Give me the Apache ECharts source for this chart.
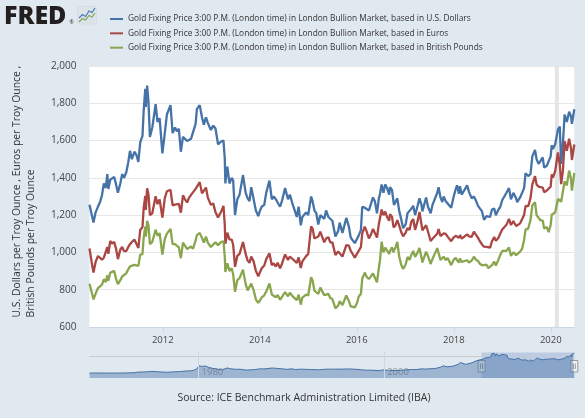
<!DOCTYPE html>
<html><head><meta charset="utf-8">
<script src="https://cdn.jsdelivr.net/npm/echarts@6/dist/echarts.min.js"></script>
<style>html,body{margin:0;padding:0;background:#e1e9f0;}#c{width:585px;height:418px;}</style>
</head><body><div id="c"></div>
<script>
// ---------- DATA ----------
const dates = [
'2010-06-28','2010-07-14','2010-07-28','2010-08-13','2010-08-31','2010-09-15','2010-09-30','2010-10-14','2010-10-29','2010-11-09','2010-11-17','2010-12-01','2010-12-15','2010-12-31',
'2011-01-14','2011-01-28','2011-02-15','2011-03-01','2011-03-15','2011-04-01','2011-04-15','2011-04-29','2011-05-13','2011-06-01','2011-06-15','2011-07-01','2011-07-15','2011-08-01','2011-08-10','2011-08-22','2011-08-26','2011-09-05','2011-09-15','2011-09-26','2011-10-14','2011-11-08','2011-11-22','2011-12-08','2011-12-29',
'2012-01-16','2012-02-01','2012-02-28','2012-03-15','2012-04-02','2012-04-16','2012-05-01','2012-05-16','2012-06-01','2012-06-15','2012-07-02','2012-07-16','2012-08-01','2012-08-15','2012-09-04','2012-09-14','2012-10-05','2012-10-22','2012-11-05','2012-11-21','2012-12-05','2012-12-28',
'2013-01-15','2013-02-01','2013-02-20','2013-03-15','2013-04-02','2013-04-12','2013-04-16','2013-05-01','2013-05-17','2013-06-03','2013-06-14','2013-06-28','2013-07-15','2013-08-01','2013-08-27','2013-09-16','2013-10-01','2013-10-15','2013-10-28','2013-11-15','2013-12-02','2013-12-20',
'2014-01-02','2014-01-15','2014-02-03','2014-02-18','2014-03-14','2014-04-01','2014-04-15','2014-05-01','2014-05-15','2014-06-02','2014-06-16','2014-07-10','2014-08-01','2014-08-15','2014-09-02','2014-09-16','2014-10-06','2014-10-20','2014-11-05','2014-11-17','2014-12-01','2014-12-15','2014-12-31',
'2015-01-22','2015-02-02','2015-02-16','2015-03-02','2015-03-17','2015-04-01','2015-04-15','2015-05-01','2015-05-15','2015-06-01','2015-06-15','2015-07-01','2015-07-24','2015-08-14','2015-08-25','2015-09-15','2015-10-14','2015-11-02','2015-11-16','2015-12-01','2015-12-17',
'2016-01-04','2016-01-15','2016-02-01','2016-02-11','2016-03-01','2016-03-15','2016-04-01','2016-04-15','2016-05-02','2016-05-16','2016-06-01','2016-06-15','2016-06-24','2016-07-06','2016-07-20','2016-08-02','2016-08-16','2016-09-01','2016-09-07','2016-09-22','2016-10-04','2016-10-07','2016-10-18','2016-11-01','2016-11-15','2016-12-01','2016-12-15',
'2017-01-03','2017-01-17','2017-02-01','2017-02-15','2017-03-01','2017-03-15','2017-04-03','2017-04-17','2017-05-02','2017-05-09','2017-06-06','2017-06-20','2017-07-10','2017-07-24','2017-08-08','2017-08-29','2017-09-08','2017-09-22','2017-10-06','2017-10-16','2017-11-01','2017-11-15','2017-12-12','2017-12-29',
'2018-01-15','2018-01-25','2018-02-08','2018-02-16','2018-03-01','2018-03-15','2018-04-11','2018-04-25','2018-05-15','2018-06-01','2018-06-15','2018-07-02','2018-07-16','2018-08-01','2018-08-16','2018-09-04','2018-09-18','2018-10-01','2018-10-15','2018-11-01','2018-11-13','2018-12-03','2018-12-17','2018-12-31',
'2019-01-15','2019-02-01','2019-02-20','2019-03-07','2019-03-25','2019-04-15','2019-04-23','2019-05-15','2019-05-30','2019-06-14','2019-06-25','2019-07-15','2019-08-01','2019-08-15','2019-09-04','2019-09-16','2019-10-01','2019-10-15','2019-11-01','2019-11-12','2019-12-02','2019-12-16','2019-12-31',
'2020-01-08','2020-01-17','2020-02-03','2020-02-24','2020-03-09','2020-03-19','2020-04-01','2020-04-14','2020-05-01','2020-05-18','2020-06-01','2020-06-08','2020-06-26'
];
const usd = [
1256,1205,1160,1215,1246,1270,1307,1370,1346,1420,1340,1390,1394,1405,
1365,1320,1370,1420,1400,1430,1480,1545,1500,1540,1525,1485,1590,1625,1760,1877,1780,1895,1810,1620,1670,1795,1700,1720,1531,
1640,1740,1790,1640,1670,1650,1663,1540,1620,1620,1598,1590,1610,1600,1690,1770,1790,1725,1685,1725,1695,1657,
1680,1665,1580,1595,1600,1500,1370,1460,1370,1400,1385,1200,1285,1310,1415,1320,1290,1275,1350,1285,1225,1195,
1225,1245,1255,1320,1385,1285,1300,1285,1295,1245,1275,1345,1285,1310,1265,1235,1190,1245,1145,1190,1200,1215,1200,
1300,1275,1225,1210,1150,1200,1200,1180,1225,1190,1180,1170,1085,1115,1160,1105,1185,1140,1080,1065,1050,
1075,1090,1120,1245,1240,1235,1225,1235,1295,1275,1210,1290,1315,1365,1320,1365,1345,1310,1350,1335,1270,1255,1260,1290,1225,1175,1130,
1150,1210,1210,1235,1250,1200,1250,1290,1255,1220,1295,1245,1210,1255,1260,1320,1350,1295,1270,1300,1275,1280,1240,1295,
1340,1360,1315,1355,1310,1320,1360,1325,1290,1300,1280,1250,1240,1220,1175,1195,1200,1190,1230,1235,1200,1230,1245,1280,
1290,1320,1345,1285,1320,1290,1270,1295,1285,1345,1425,1410,1420,1515,1550,1500,1475,1490,1510,1455,1465,1475,1515,
1575,1555,1580,1660,1675,1475,1580,1740,1700,1755,1730,1690,1768
];
const eur = [
1021,949,892,949,981,977,961,972,968,1029,993,1061,1048,1056,
1019,964,1015,1029,1007,1007,1028,1044,1056,1069,1066,1024,1120,1136,1239,1303,1228,1344,1312,1200,1210,1301,1259,1284,1187,
1291,1328,1336,1252,1256,1260,1260,1213,1306,1286,1268,1293,1309,1301,1341,1351,1377,1317,1316,1348,1294,1255,
1263,1215,1188,1218,1250,1145,1046,1106,1070,1069,1041,923,981,992,1056,992,956,944,978,952,901,872,
894,915,930,964,996,931,942,924,945,915,938,989,959,978,966,957,944,973,916,952,960,980,992,
1140,1128,1075,1080,1085,1111,1121,1054,1075,1082,1054,1054,986,1005,1000,978,1039,1036,1009,1005,972,
995,1000,1028,1102,1138,1113,1075,1093,1126,1128,1080,1152,1185,1230,1200,1219,1190,1170,1205,1192,1134,1131,1145,1173,1145,1108,1087,
1106,1131,1120,1165,1179,1121,1168,1217,1151,1119,1146,1112,1061,1073,1068,1100,1125,1088,1085,1102,1099,1085,1060,1079,
1089,1088,1078,1093,1074,1073,1097,1086,1084,1111,1103,1078,1060,1043,1031,1030,1026,1026,1060,1083,1062,1079,1102,1123,
1122,1148,1180,1147,1168,1142,1134,1156,1158,1201,1250,1248,1291,1365,1409,1364,1353,1355,1348,1323,1332,1329,1353,
1419,1401,1436,1537,1469,1366,1436,1596,1545,1610,1559,1496,1579
];
const gbp = [
832,788,748,779,809,814,827,856,841,877,848,891,888,901,
858,830,851,871,870,888,908,925,920,933,941,928,988,991,1080,1138,1085,1170,1146,1045,1057,1122,1090,1103,988,
1072,1101,1126,1045,1044,1038,1027,969,1052,1038,1018,1019,1032,1019,1063,1093,1105,1078,1053,1085,1053,1029,
1043,1054,1039,1056,1060,974,895,942,901,915,882,789,851,862,907,830,796,797,833,798,747,729,
742,759,770,790,834,774,778,760,771,746,750,787,765,784,767,762,744,773,720,758,764,774,769,
867,850,795,786,777,811,811,771,775,778,756,750,700,715,739,718,769,740,711,710,705,
731,762,778,859,892,870,857,870,887,885,840,915,960,1058,1000,1026,1035,992,1007,1027,1000,1012,1024,1057,980,933,911,
935,976,960,988,1008,976,1000,1024,973,946,1004,980,938,965,969,1023,1023,959,969,977,959,970,932,959,
971,958,946,968,949,943,958,946,956,977,962,954,939,931,925,934,916,915,932,950,930,961,988,1008,
1000,1008,1027,981,1000,985,977,1004,1020,1067,1122,1128,1174,1252,1270,1200,1199,1173,1171,1128,1136,1109,1148,
1202,1196,1215,1287,1279,1272,1274,1381,1360,1439,1395,1331,1426
];
// long-run USD history shown in the navigator (before the main window)
const navDates = ['1968-04-01','1969-03-15','1970-01-15','1971-01-15','1972-01-15','1973-01-15','1973-06-15','1974-01-15','1974-06-15','1974-12-15','1975-06-15','1976-01-15','1976-08-15','1977-01-15','1978-01-15','1978-10-15','1979-01-15','1979-06-15','1979-10-15','1980-01-15','1980-03-15','1980-06-15','1980-09-15','1981-01-15','1981-06-15','1982-01-15','1982-06-15','1983-02-15','1983-06-15','1984-01-15','1984-06-15','1985-02-15','1985-06-15','1986-01-15','1986-09-15','1987-01-15','1987-12-15','1988-06-15','1988-12-15','1989-06-15','1990-01-15','1990-06-15','1991-01-15','1991-06-15','1992-01-15','1992-06-15','1993-01-15','1993-08-15','1994-06-15','1995-06-15','1996-02-15','1996-12-15','1997-06-15','1997-12-15','1998-06-15','1999-07-15','1999-10-15','2000-06-15','2001-04-15','2002-06-15','2003-01-15','2003-06-15','2004-01-15','2004-06-15','2005-01-15','2005-06-15','2006-01-15','2006-05-15','2006-10-15','2007-06-15','2007-12-15','2008-03-15','2008-10-15','2009-06-15','2009-12-15','2010-06-15'];
const navUsd = [38,42,35,38,46,65,120,130,150,185,165,130,107,132,173,230,227,280,390,675,550,620,670,560,460,385,315,490,412,370,377,300,317,345,420,400,485,450,420,365,410,352,383,368,354,340,329,378,385,387,405,369,340,289,292,256,312,285,260,320,356,346,414,392,424,430,549,675,585,655,803,968,806,945,1130,1233];

const seriesNames = [
  'Gold Fixing Price 3:00 P.M. (London time) in London Bullion Market, based in U.S. Dollars',
  'Gold Fixing Price 3:00 P.M. (London time) in London Bullion Market, based in Euros',
  'Gold Fixing Price 3:00 P.M. (London time) in London Bullion Market, based in British Pounds'
];
const xTickYears = [2012, 2014, 2016, 2018, 2020];
const navLabelYears = [1980, 2000];
const yMin = 600, yMax = 2000, yStep = 200;
const recession = ['2020-02-01', '2020-03-01'];
const yTitleLines = ['U.S. Dollars per Troy Ounce , Euros per Troy Ounce ,', 'British Pounds per Troy Ounce'];
const sourceText = 'Source: ICE Benchmark Administration Limited (IBA)';

// ---------- CHART ----------
const FONT = '"Open Sans", sans-serif';
const COLORS = ['#4572a7', '#aa4643', '#89a54e'];
const toTs = s => { const p = s.split('-'); return +new Date(+p[0], +p[1] - 1, +p[2]); };
const yearTs = y => +new Date(y, 0, 1);
const pair = arr => dates.map((d, i) => [toTs(d), arr[i]]);
const tStart = toTs(dates[0]), tEnd = toTs(dates[dates.length - 1]);
const navData = navDates.map((d, i) => [toTs(d), navUsd[i]]).concat(pair(usd));

const chart = echarts.init(document.getElementById('c'), null, {renderer: 'canvas'});
const lineSeries = [usd, eur, gbp].map((arr, i) => {
  const s = {
    name: seriesNames[i], type: 'line', xAxisIndex: 0, yAxisIndex: 0,
    data: pair(arr), showSymbol: false, symbol: 'none', z: 3,
    lineStyle: {color: COLORS[i], width: 2.3}, itemStyle: {color: COLORS[i]}
  };
  if (i === 0) s.markArea = {silent: true, itemStyle: {color: '#e4e4e4'},
    data: [[{xAxis: toTs(recession[0])}, {xAxis: toTs(recession[1])}]]};
  return s;
});

chart.setOption({
  animation: false,
  backgroundColor: '#e1e9f0',
  textStyle: {fontFamily: FONT},
  legend: {
    orient: 'vertical', left: 105, top: 6.8, itemWidth: 13, itemHeight: 2, itemGap: 0,
    icon: 'rect', selectedMode: false, data: seriesNames,
    textStyle: {fontSize: 8.35, color: '#333', lineHeight: 14.35, fontFamily: FONT}
  },
  grid: [
    {left: 89.5, right: 10.7, top: 66, bottom: 91, show: true, backgroundColor: '#ffffff', borderWidth: 0},
    {left: 89.5, right: 10.7, top: 352, height: 26, show: false}
  ],
  xAxis: [
    {type: 'value', gridIndex: 0, min: tStart, max: tEnd, scale: true,
     axisLine: {lineStyle: {color: '#ccd6eb'}},
     axisTick: {show: true, customValues: xTickYears.map(yearTs), length: 5, lineStyle: {color: '#ccd6eb'}},
     axisLabel: {customValues: xTickYears.map(yearTs), formatter: v => String(new Date(v).getFullYear()),
                 color: '#444', fontSize: 9.5, margin: 8, fontFamily: FONT},
     splitLine: {show: false}},
    {type: 'value', gridIndex: 1, min: toTs(navDates[0]), max: tEnd, scale: true,
     axisLine: {show: false}, axisTick: {show: false}, axisLabel: {show: false}, splitLine: {show: false}}
  ],
  yAxis: [
    {type: 'value', gridIndex: 0, min: yMin, max: yMax, interval: yStep,
     axisLine: {show: false}, axisTick: {show: false},
     axisLabel: {formatter: v => v.toLocaleString('en-US'), color: '#444', fontSize: 10, margin: 13, fontFamily: FONT},
     splitLine: {lineStyle: {color: '#e6e6e6', width: 1}}},
    {type: 'value', gridIndex: 1, min: -400, max: 1900, show: false}
  ],
  series: lineSeries.concat([{
    name: 'nav', type: 'line', xAxisIndex: 1, yAxisIndex: 1, data: navData,
    showSymbol: false, symbol: 'none', silent: true,
    lineStyle: {color: '#4572a7', width: 1},
    areaStyle: {color: 'rgba(69,114,167,0.62)', origin: 'start'},
    markLine: {silent: true, symbol: 'none', label: {show: false},
      lineStyle: {color: '#cfd8e2', type: 'solid', width: 1},
      data: navLabelYears.map(y => ({xAxis: yearTs(y)}))}
  }])
});

// ---------- decorations (positions derived from axes) ----------
const nx0 = chart.convertToPixel({xAxisIndex: 1}, tStart);
const nx1 = chart.convertToPixel({xAxisIndex: 1}, tEnd);
const navLeft = chart.convertToPixel({xAxisIndex: 1}, toTs(navDates[0]));
function handle(x) {
  return {type: 'group', children: [
    {type: 'rect', shape: {x: x - 3.5, y: 360.5, width: 7, height: 11.5}, style: {fill: '#f2f2f2', stroke: '#999', lineWidth: 1}},
    {type: 'line', shape: {x1: x - 1, y1: 363.5, x2: x - 1, y2: 369}, style: {stroke: '#999', lineWidth: 1}},
    {type: 'line', shape: {x1: x + 1, y1: 363.5, x2: x + 1, y2: 369}, style: {stroke: '#999', lineWidth: 1}}
  ]};
}
const graphics = [
  {type: 'text', x: 4, y: 16.5, style: {text: 'FRED', font: '800 25px "Open Sans", sans-serif', fill: '#231f20', align: 'left', verticalAlign: 'middle'}},
  {type: 'text', x: 69.5, y: 23, style: {text: '®', font: '5px "Open Sans", sans-serif', fill: '#231f20', align: 'left', verticalAlign: 'middle'}},
  {type: 'rect', shape: {x: 77.5, y: 6.5, width: 19, height: 17.5, r: 1}, style: {fill: '#dce3e9', stroke: '#cdd5dc', lineWidth: 0.5}},
  {type: 'polyline', shape: {points: [[79, 18], [82.5, 14.5], [85.5, 16.5], [89, 11], [92, 12.5], [95, 8]]}, style: {stroke: '#4a7ab5', lineWidth: 1.2, fill: null}},
  {type: 'polyline', shape: {points: [[79, 22], [82.5, 18.5], [85.5, 20], [89, 15.5], [92, 17], [95, 13]]}, style: {stroke: '#7fa85a', lineWidth: 1.2, fill: null}},
  {type: 'text', x: 17, y: 317.5, rotation: Math.PI / 2, style: {text: yTitleLines[0], font: '10.4px "Open Sans", sans-serif', fill: '#333', align: 'left', verticalAlign: 'middle'}},
  {type: 'text', x: 31.5, y: 317.5, rotation: Math.PI / 2, style: {text: yTitleLines[1], font: '10.4px "Open Sans", sans-serif', fill: '#333', align: 'left', verticalAlign: 'middle'}},
  {type: 'text', x: 304, y: 398.5, style: {text: sourceText, font: '10.5px "Open Sans", sans-serif', fill: '#333', align: 'center', verticalAlign: 'middle'}},
  {type: 'line', shape: {x1: navLeft, y1: 356.5, x2: nx0, y2: 356.5}, style: {stroke: '#cccccc', lineWidth: 1}},
  {type: 'rect', shape: {x: nx0, y: 352.5, width: nx1 - nx0, height: 25.5}, style: {fill: 'rgba(102,133,194,0.3)'}},
  handle(nx0), handle(nx1)
];
navLabelYears.forEach(y => {
  const px = chart.convertToPixel({xAxisIndex: 1}, yearTs(y));
  graphics.push({type: 'text', x: px + 3, y: 372, style: {text: String(y), font: '9.5px "Open Sans", sans-serif', fill: '#999', align: 'left', verticalAlign: 'middle'}});
});
chart.setOption({graphic: graphics});
</script>
</body></html>
